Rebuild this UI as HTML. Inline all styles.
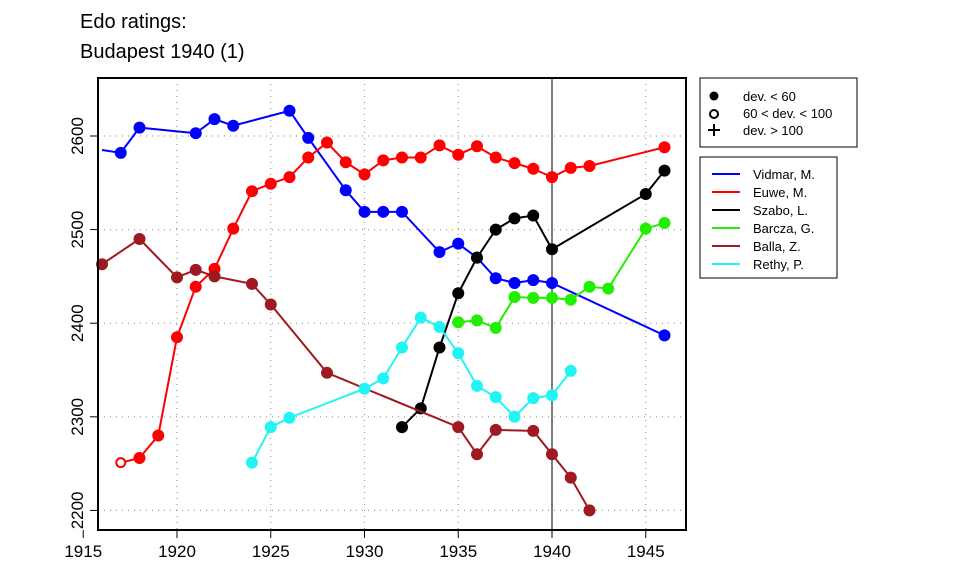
<!DOCTYPE html>
<html><head><meta charset="utf-8"><style>
body{margin:0;background:#fff;}
svg{display:block;font-family:"Liberation Sans",Arial,sans-serif;}
</style></head><body>
<svg id="chart" width="960" height="576" viewBox="0 0 960 576">
<text x="80" y="28" font-size="20">Edo ratings:</text>
<text x="80" y="58" font-size="20">Budapest 1940 (1)</text>
<g id="grid"></g>
<g id="axes"></g>
<g id="series"></g>
<rect x="98" y="78" width="588" height="452" fill="none" stroke="#000" stroke-width="2"/>
<g>
<rect x="700" y="78" width="157" height="69" fill="#fff" stroke="#000" stroke-width="1"/>
<circle cx="714" cy="96" r="4.5" fill="#000"/>
<text x="743" y="101" font-size="13">dev. &lt; 60</text>
<circle cx="714" cy="114" r="4" fill="none" stroke="#000" stroke-width="2"/>
<text x="743" y="118" font-size="13">60 &lt; dev. &lt; 100</text>
<path d="M708 130h12M714 124v12" stroke="#000" stroke-width="2"/>
<text x="743" y="135" font-size="13">dev. &gt; 100</text>
</g>
<g id="legend2">
<rect x="700" y="157" width="137" height="121" fill="#fff" stroke="#000" stroke-width="1"/>
</g>
</svg>
<script>
const years = {
 vidmar:[1916,1917,1918,1921,1922,1923,1926,1927,1929,1930,1931,1932,1934,1935,1936,1937,1938,1939,1940,1946],
 euwe:[1917,1918,1919,1920,1921,1922,1923,1924,1925,1926,1927,1928,1929,1930,1931,1932,1933,1934,1935,1936,1937,1938,1939,1940,1941,1942,1946],
 szabo:[1932,1933,1934,1935,1936,1937,1938,1939,1940,1945,1946],
 barcza:[1935,1936,1937,1938,1939,1940,1941,1942,1943,1945,1946],
 balla:[1916,1918,1920,1921,1922,1924,1925,1928,1935,1936,1937,1939,1940,1941,1942],
 rethy:[1924,1925,1926,1930,1931,1932,1933,1934,1935,1936,1937,1938,1939,1940,1941]
};
const vidmarRatings=[2585,2582,2609,2603,2618,2611,2627,2598,2542,2519,2519,2519,2476,2485,2470,2448,2443,2446,2443,2387];
const euweRatings=[2251,2256,2280,2385,2439,2458,2501,2541,2549,2556,2577,2593,2572,2559,2574,2577,2577,2590,2580,2589,2577,2571,2565,2556,2566,2568,2588];
const szaboRatings=[2289,2309,2374,2432,2470,2500,2512,2515,2479,2538,2563];
const barczaRatings=[2401,2403,2395,2428,2427,2427,2425,2439,2437,2501,2507];
const ballaRatings=[2463,2490,2449,2457,2450,2442,2420,2347,2289,2260,2286,2285,2260,2235,2200];
const rethyRatings=[2251,2289,2299,2330,2341,2374,2406,2396,2368,2333,2321,2300,2320,2323,2349];
const players=["Vidmar, M.","Euwe, M.","Szabo, L.","Barcza, G.","Balla, Z.","Rethy, P."];
const xTicks=[1915,1920,1925,1930,1935,1940,1945];
const yTicks=[2200,2300,2400,2500,2600];
const keys=["vidmar","euwe","szabo","barcza","balla","rethy"];
const ratings=[vidmarRatings,euweRatings,szaboRatings,barczaRatings,ballaRatings,rethyRatings];
const colors=["#0000ff","#ff0000","#000000","#22ee00","#9e1a20","#22f4f4"];
const NS="http://www.w3.org/2000/svg";
const X=y=>83.25+(y-1915)*18.75;
const Y=v=>136+(2600-v)*0.936;
function mk(tag,attrs,parent){const e=document.createElementNS(NS,tag);for(const k in attrs)e.setAttribute(k,attrs[k]);parent.appendChild(e);return e;}
const grid=document.getElementById('grid'),axes=document.getElementById('axes'),ser=document.getElementById('series'),leg=document.getElementById('legend2');
xTicks.forEach(t=>{
 if(t>1915){const l=mk('line',{x1:X(t),x2:X(t),y1:78,y2:530,stroke:'#999','stroke-dasharray':'1 5','stroke-width':1.2},grid);
 
 }
 const tk=mk('line',{x1:X(t),x2:X(t),y1:530,y2:538,stroke:'#000','stroke-width':1},axes);
 
 
 const tx=mk('text',{x:X(t),y:557,'font-size':17,'text-anchor':'middle'},axes);tx.textContent=t;
 
 
});
yTicks.forEach(t=>{
 const l=mk('line',{x1:98,x2:686,y1:Y(t),y2:Y(t),stroke:'#999','stroke-dasharray':'1 5','stroke-width':1.2},grid);
 
 
 const tk=mk('line',{x1:90,x2:98,y1:Y(t),y2:Y(t),stroke:'#000','stroke-width':1},axes);
 
 
 const tx=mk('text',{x:0,y:0,'font-size':17,'text-anchor':'middle',transform:`translate(83,${Y(t)}) rotate(-90)`},axes);tx.textContent=t;
 
 
});
const vl=mk('line',{x1:X(1940),x2:X(1940),y1:78,y2:530,stroke:'#000','stroke-width':1},axes);


keys.forEach((k,i)=>{
 const ys=years[k],vs=ratings[i];
 const g=mk('g',{},ser);
 
 
 const pts=ys.map((y,j)=>X(y)+','+Y(vs[j])).join(' ');
 mk('polyline',{points:pts,fill:'none',stroke:colors[i],'stroke-width':2},g);
 ys.forEach((y,j)=>{
  if(k==='vidmar'&&j===0)return;
  let c;
  if(k==='euwe'&&j===0){c=mk('circle',{cx:X(y),cy:Y(vs[j]),r:4.5,fill:'#fff',stroke:colors[i],'stroke-width':2},g);}
  else c=mk('circle',{cx:X(y),cy:Y(vs[j]),r:6,fill:colors[i]},g);
  
  
 });
 const ly=174+i*18;
 mk('line',{x1:712,x2:740,y1:ly,y2:ly,stroke:colors[i],'stroke-width':2},leg);
 const lt=mk('text',{x:753,y:ly+5,'font-size':13},leg);lt.textContent=players[i];
 
 
});
</script>
</body></html>
